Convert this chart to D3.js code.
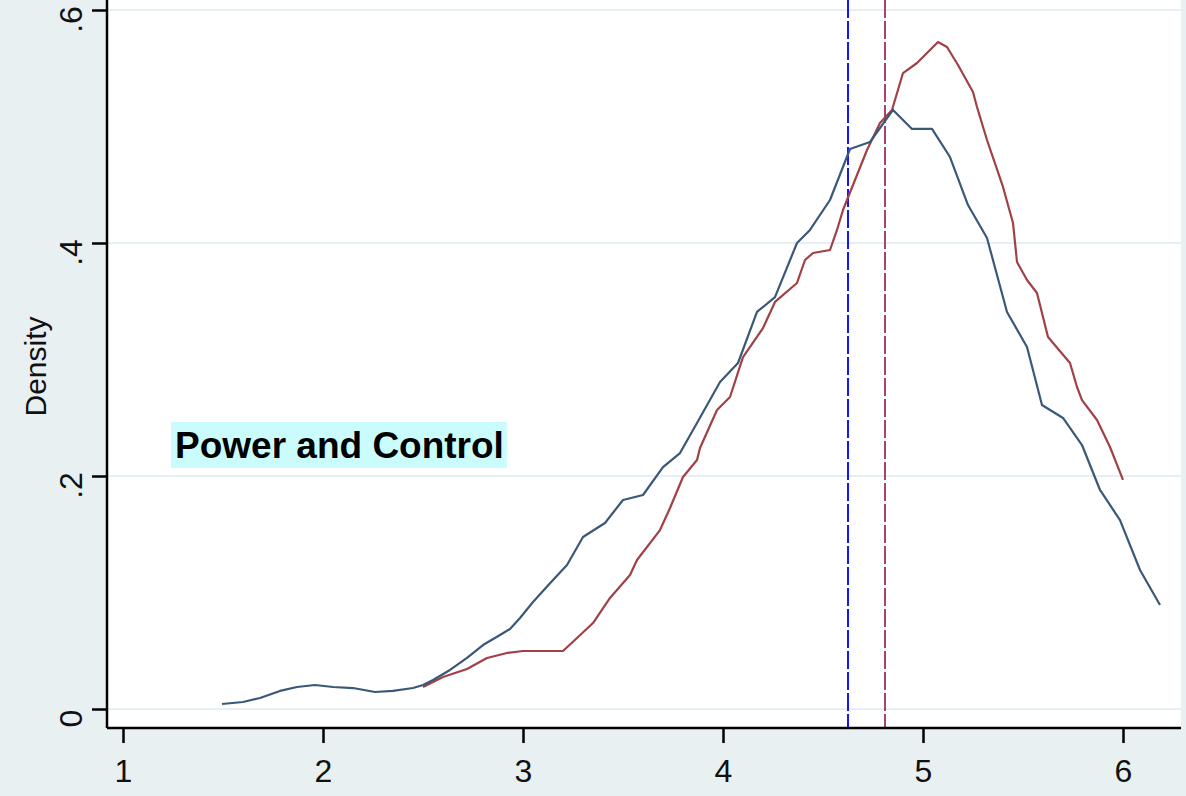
<!DOCTYPE html>
<html>
<head>
<meta charset="utf-8">
<script src="https://cdn.jsdelivr.net/npm/d3@7"></script>
<style>
  html, body { margin: 0; padding: 0; background: #e9f0f2; }
  svg { display: block; }
  text { font-family: "Liberation Sans", Arial, sans-serif; }
</style>
</head>
<body>
<svg id="chart" width="1186" height="796"></svg>
<script>
// ---- data ----
const xTicks = [1, 2, 3, 4, 5, 6];
const yTicks = [0, 0.2, 0.4, 0.6];
const yTickLabels = ["0", ".2", ".4", ".6"];
const yAxisTitle = "Density";
const annotation = "Power and Control";

// group 1 (navy) kernel density
const blueX = [1.495, 1.60, 1.685, 1.785, 1.87, 1.96, 2.05, 2.15, 2.26, 2.35, 2.45, 2.50, 2.55, 2.635, 2.72, 2.80, 2.885, 2.935, 2.985, 3.05, 3.135, 3.22, 3.30, 3.41, 3.50, 3.60, 3.70, 3.785, 3.87, 3.985, 4.075, 4.17, 4.26, 4.37, 4.435, 4.535, 4.635, 4.735, 4.85, 4.945, 5.045, 5.135, 5.225, 5.32, 5.42, 5.52, 5.595, 5.70, 5.795, 5.885, 5.985, 6.085, 6.185];
const blueY = [0.0043, 0.006, 0.0094, 0.0155, 0.0189, 0.0206, 0.0189, 0.018, 0.0146, 0.0155, 0.018, 0.0206, 0.0249, 0.0335, 0.0438, 0.0549, 0.0635, 0.0687, 0.0781, 0.0918, 0.108, 0.1236, 0.1476, 0.1597, 0.1794, 0.1837, 0.2077, 0.2197, 0.2455, 0.2807, 0.297, 0.3408, 0.3536, 0.40, 0.4112, 0.4369, 0.4807, 0.4867, 0.5142, 0.4979, 0.4979, 0.4738, 0.4326, 0.4043, 0.3408, 0.3107, 0.2609, 0.2498, 0.2266, 0.188, 0.1622, 0.1193, 0.0893];

// group 2 (maroon) kernel density
const redX = [2.50, 2.60, 2.72, 2.82, 2.92, 3.00, 3.20, 3.27, 3.35, 3.435, 3.535, 3.57, 3.685, 3.735, 3.80, 3.87, 3.885, 3.97, 4.035, 4.10, 4.20, 4.26, 4.37, 4.41, 4.45, 4.535, 4.57, 4.60, 4.62, 4.72, 4.785, 4.845, 4.90, 4.97, 5.075, 5.12, 5.175, 5.25, 5.27, 5.32, 5.40, 5.45, 5.47, 5.52, 5.57, 5.625, 5.735, 5.77, 5.795, 5.87, 5.935, 6.00];
const redY = [0.0189, 0.0275, 0.0343, 0.0438, 0.0481, 0.0498, 0.0498, 0.0609, 0.0738, 0.0953, 0.115, 0.1279, 0.1536, 0.1725, 0.1991, 0.2137, 0.224, 0.2567, 0.2678, 0.3021, 0.327, 0.3494, 0.3657, 0.3854, 0.3914, 0.394, 0.4112, 0.4283, 0.4369, 0.4798, 0.503, 0.5142, 0.5459, 0.5545, 0.5725, 0.5682, 0.5528, 0.5296, 0.5167, 0.4884, 0.4481, 0.4172, 0.3837, 0.3682, 0.3571, 0.3193, 0.297, 0.2764, 0.2652, 0.2481, 0.2249, 0.1966];

// group means (vertical reference lines)
const meanValues = [4.625, 4.81];
const meanNames = ["mean1", "mean2"];

// ---- drawing ----
const svg = d3.select("#chart");
const W = 1186, H = 796;
const plotLeft = 107, plotRight = 1181, plotTop = 0, plotBottom = 728;

const x = d3.scaleLinear().domain([0.92, 6.29]).range([plotLeft, plotRight]);
const y = d3.scaleLinear().domain([0, 0.6]).range([709, 10]);

svg.append("rect").attr("width", W).attr("height", H).attr("fill", "#e9f0f2");
svg.append("rect")
  .attr("x", plotLeft).attr("y", plotTop)
  .attr("width", plotRight - plotLeft).attr("height", plotBottom - plotTop)
  .attr("fill", "#ffffff");

// gridlines
svg.append("g").selectAll("line").data(yTicks).join("line")
  .attr("x1", plotLeft).attr("x2", plotRight)
  .attr("y1", d => y(d)).attr("y2", d => y(d))
  .attr("stroke", "#e6eff1").attr("stroke-width", 2);

// annotation box
const annX = x(1.26), annY = y(0.2155);
const annText = svg.append("text")
  .attr("x", annX).attr("y", annY)
  .attr("font-size", 37).attr("font-weight", "bold").attr("fill", "#000")
  .text(annotation);
const bb = annText.node().getBBox();
svg.insert("rect", () => annText.node())
  .attr("x", bb.x - 4).attr("y", annY - 36)
  .attr("width", bb.width + 7).attr("height", 46)
  .attr("fill", "#cbfcfd");

// mean lines
const meanColors = ["#1414ff", "#a8436f"];
svg.append("g").selectAll("line").data(meanValues).join("line")
  .attr("x1", d => x(d)).attr("x2", d => x(d))
  .attr("y1", plotTop).attr("y2", plotBottom)
  .attr("stroke", (d, i) => meanColors[i])
  .attr("stroke-width", 2)
  .attr("stroke-dasharray", "18,3");

// density curves
const line = d3.line().x(d => x(d[0])).y(d => y(d[1]));
const bluePts = blueX.map((v, i) => [v, blueY[i]]);
const redPts = redX.map((v, i) => [v, redY[i]]);
svg.append("path").datum(redPts).attr("d", line)
  .attr("fill", "none").attr("stroke", "#a04047").attr("stroke-width", 2.2).attr("stroke-linejoin", "round");
svg.append("path").datum(bluePts).attr("d", line)
  .attr("fill", "none").attr("stroke", "#3a5878").attr("stroke-width", 2.2).attr("stroke-linejoin", "round");

// x axis
const xAxis = d3.axisBottom(x).tickValues(xTicks).tickSize(15).tickSizeOuter(0).tickFormat(d3.format("d"));
const gx = svg.append("g").attr("transform", `translate(0,${plotBottom})`).call(xAxis);
gx.select(".domain").attr("stroke", "#000").attr("stroke-width", 2.5).attr("d", `M${plotLeft},0H${plotRight}`);
gx.selectAll(".tick line").attr("stroke", "#000").attr("stroke-width", 2.5);
gx.selectAll(".tick text").attr("font-size", 32).attr("fill", "#111").attr("y", 54).attr("dy", 0)
  .attr("font-family", "Liberation Sans, Arial, sans-serif");

// y axis
const yAxis = d3.axisLeft(y).tickValues(yTicks).tickSize(15).tickSizeOuter(0)
  .tickFormat((d, i) => yTickLabels[i]);
const gy = svg.append("g").attr("transform", `translate(${plotLeft},0)`).call(yAxis);
gy.select(".domain").attr("stroke", "#000").attr("stroke-width", 2.5).attr("d", `M0,${plotTop}V${plotBottom}`);
gy.selectAll(".tick line").attr("stroke", "#000").attr("stroke-width", 2.5);
gy.selectAll(".tick text")
  .attr("font-size", 32).attr("fill", "#111")
  .attr("x", null).attr("dy", null)
  .attr("text-anchor", "middle")
  .attr("transform", "translate(-25,9) rotate(-90)")
  .attr("font-family", "Liberation Sans, Arial, sans-serif");

// y title
svg.append("text")
  .attr("transform", `translate(46,${(315 + 418) / 2}) rotate(-90)`)
  .attr("text-anchor", "middle")
  .attr("font-size", 30).attr("fill", "#111")
  .text(yAxisTitle);
</script>
</body>
</html>
